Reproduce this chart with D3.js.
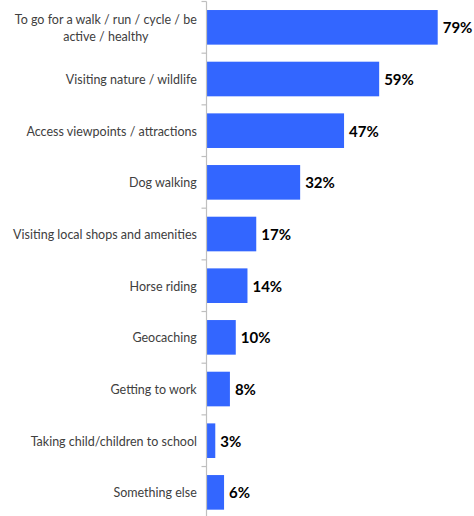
<!DOCTYPE html>
<html>
<head>
<meta charset="utf-8">
<script src="https://cdn.jsdelivr.net/npm/d3@7"></script>
<style>
  html, body { margin: 0; padding: 0; background: #fff; }
  svg { display: block; }
</style>
</head>
<body>
<script>
// Reasons for visiting, share of respondents (%)
const categories = [
  "To go for a walk / run / cycle / be active / healthy",
  "Visiting nature / wildlife",
  "Access viewpoints / attractions",
  "Dog walking",
  "Visiting local shops and amenities",
  "Horse riding",
  "Geocaching",
  "Getting to work",
  "Taking child/children to school",
  "Something else"
];
const values = [79, 59, 47, 32, 17, 14, 10, 8, 3, 6];
// Wrapped lines for long category names
const categoryLines = [
  ["To go for a walk / run / cycle / be", "active / healthy"],
  ["Visiting nature / wildlife"],
  ["Access viewpoints / attractions"],
  ["Dog walking"],
  ["Visiting local shops and amenities"],
  ["Horse riding"],
  ["Geocaching"],
  ["Getting to work"],
  ["Taking child/children to school"],
  ["Something else"]
];

const W = 474, H = 516;
const axisX = 206.5;

const svg = d3.select("body").append("svg")
  .attr("width", W).attr("height", H);

const x = d3.scaleLinear().domain([0, 79]).range([axisX, 437.7]);
const y = d3.scaleBand().domain(categories).range([1.5, 518.2]).paddingInner(0.33).paddingOuter(0.165);

// Bars
svg.append("g").selectAll("rect")
  .data(values)
  .join("rect")
  .attr("x", x(0))
  .attr("y", (d, i) => y(categories[i]))
  .attr("width", d => x(d) - x(0))
  .attr("height", y.bandwidth())
  .attr("fill", "#3366FF");

// Category axis: line and tick marks at band boundaries
const step = y.step();
const start = y.range()[0];
const axisG = svg.append("g");
axisG.append("line")
  .attr("x1", axisX).attr("x2", axisX)
  .attr("y1", start).attr("y2", H)
  .attr("stroke", "#BFBFBF").attr("stroke-width", 1.2);
axisG.selectAll("line.tick")
  .data(d3.range(categories.length + 1))
  .join("line")
  .attr("class", "tick")
  .attr("x1", axisX - 5).attr("x2", axisX)
  .attr("y1", i => start + i * step).attr("y2", i => start + i * step)
  .attr("stroke", "#BFBFBF").attr("stroke-width", 1.2);

// Category labels (lines centred within a right-aligned block)
const labelFont = "Lato, 'Open Sans', sans-serif";
const labelG = svg.append("g")
  .attr("font-family", labelFont)
  .attr("font-size", 12.5)
  .attr("fill", "#404040");

categories.forEach((c, i) => {
  const lines = categoryLines[i];
  const cy = y(c) + y.bandwidth() / 2;
  const lh = 17.5;
  const t = labelG.append("text")
    .attr("text-anchor", "middle")
    .attr("dominant-baseline", "central");
  lines.forEach((ln, j) => {
    t.append("tspan")
      .attr("x", 0)
      .attr("y", cy + (j - (lines.length - 1) / 2) * lh)
      .text(ln);
  });
  // place block so its widest line ends at the right edge
  const bw = t.node().getBBox().width;
  t.attr("transform", `translate(${197 - bw / 2},0)`);
});

// Value labels
svg.append("g").selectAll("text")
  .data(values)
  .join("text")
  .attr("x", d => x(d) + 5)
  .attr("y", (d, i) => y(categories[i]) + y.bandwidth() / 2)
  .attr("dominant-baseline", "central")
  .attr("font-family", labelFont)
  .attr("font-weight", "bold")
  .attr("font-size", 15)
  .attr("fill", "#000")
  .text(d => d + "%");
</script>
</body>
</html>
